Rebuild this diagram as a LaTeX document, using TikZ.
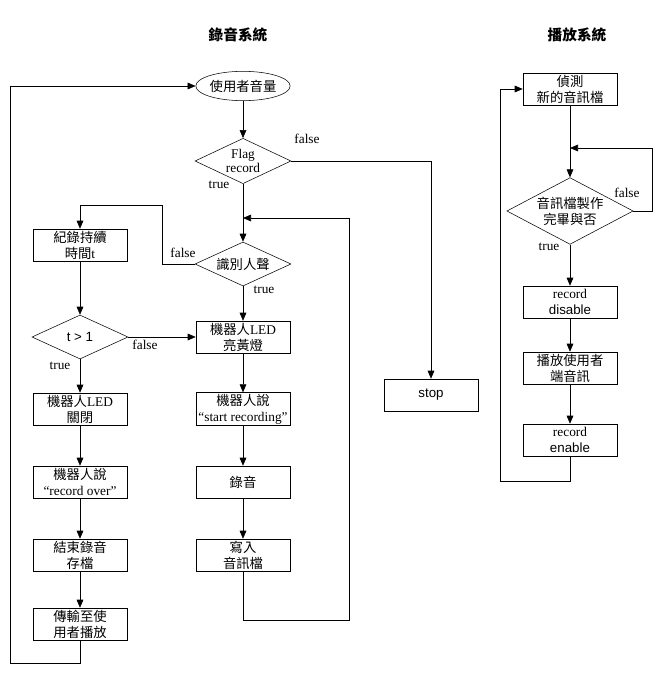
\documentclass[tikz,border=0pt]{standalone}
\usepackage{fontspec}
\setmainfont{Liberation Serif}
\newfontfamily\cjk{Noto Sans CJK TC}
\newfontfamily\sfl{Liberation Sans}
\newcommand{\C}[1]{{\cjk #1}}
\usetikzlibrary{arrows.meta,shapes.geometric}
\begin{document}
\begin{tikzpicture}[x=0.75pt,y=-0.75pt,font=\fontsize{10}{12}\selectfont,
  box/.style={draw,minimum width=70.5pt,minimum height=24pt,align=center,inner sep=1pt},
  dia/.style={draw,diamond,aspect=2.1,align=center,inner sep=0pt},
  ar/.style={-{Triangle[length=6pt,width=5pt]}},
  ln/.style={draw},
  lab/.style={inner sep=1pt}]
\useasboundingbox (0,0) rectangle (663,681);
\node (t1) at (238,35) {\cjk\bfseries\fontsize{11}{13}\selectfont 錄音系統};
\node (t2) at (577,35) {\cjk\bfseries\fontsize{11}{13}\selectfont 播放系統};
% recording
\node[draw,ellipse,minimum width=64.5pt,minimum height=22pt,inner sep=0pt] (vol) at (243,86) {\C{使用者音量}};
\node[dia,minimum width=72pt,minimum height=34pt] (flag) at (243,161) {Flag\\[-2pt]record};
\node[box] (stop) at (431,395) {\sfl stop};
\node[dia,minimum width=72pt,minimum height=33pt] (voice) at (243,264) {\C{識別人聲}};
\node[box] (dur) at (80,245) {\C{紀錄持續}\\\C{時間}t};
\node[dia,minimum width=72pt,minimum height=33pt] (t) at (80,337) {\sfl t > 1};
\node[box] (led) at (243,337) {\C{機器人}LED\\\C{亮黃燈}};
\node[box] (off) at (80,409) {\C{機器人}LED\\\C{關閉}};
\node[box] (over) at (80,482) {\C{機器人說}\\``record over''};
\node[box] (save) at (80,555) {\C{結束錄音}\\\C{存檔}};
\node[box] (send) at (80,624) {\C{傳輸至使}\\\C{用者播放}};
\node[box] (start) at (243,409) {\C{機器人說}\\``start recording''};
\node[box] (rec) at (243,482) {\C{錄音}};
\node[box] (write) at (243,555) {\C{寫入}\\\C{音訊檔}};
\coordinate (m1) at (243,218);
\coordinate (m2) at (80,205);
\draw[ar] (vol) -- (flag);
\draw (flag.south) -- (m1);
\draw[ar] (m1) -- (voice);
\draw[ar] (flag.east) -| (stop.north);
\draw[ar] (voice.west) -- (162,264) |- (m2) -- (dur.north);
\draw[ar] (voice) -- (led);
\draw[ar] (dur) -- (t);
\draw[ar] (t.east) -- (led.west);
\draw[ar] (t) -- (off);
\draw[ar] (off) -- (over);
\draw[ar] (over) -- (save);
\draw[ar] (save) -- (send);
\draw[ar] (send.south) -- (80,663) -| (10,86) -- (vol.west);
\draw[ar] (led) -- (start);
\draw[ar] (start) -- (rec);
\draw[ar] (rec) -- (write);
\draw[ar] (write.south) -- (243,620) -| (349,218) -- (m1);
\node[lab] at (307,139) {false};
\node[lab] at (219,185) {true};
\node[lab] at (183,253) {false};
\node[lab] at (264,290) {true};
\node[lab] at (145,345) {false};
\node[lab] at (60,366) {true};
% playback
\node[box] (det) at (570,89) {\C{偵測}\\\C{新的音訊檔}};
\node[dia,minimum width=72pt,minimum height=50pt] (done) at (570,211) {\C{音訊檔製作}\\\C{完畢與否}};
\node[box] (dis) at (570,302) {record\\\sfl disable};
\node[box] (play) at (570,368) {\C{播放使用者}\\\C{端音訊}};
\node[box] (en) at (570,440) {record\\\sfl enable};
\coordinate (m3) at (570,148);
\draw (det) -- (m3);
\draw[ar] (m3) -- (done);
\draw[ar] (done.east) -- (652,211) |- (m3);
\draw[ar] (done) -- (dis);
\draw[ar] (dis) -- (play);
\draw[ar] (play) -- (en);
\draw[ar] (en.south) -- (570,481) -| (500,89) -- (det.west);
\node[lab] at (627,193) {false};
\node[lab] at (549,247) {true};
\end{tikzpicture}
\end{document}
